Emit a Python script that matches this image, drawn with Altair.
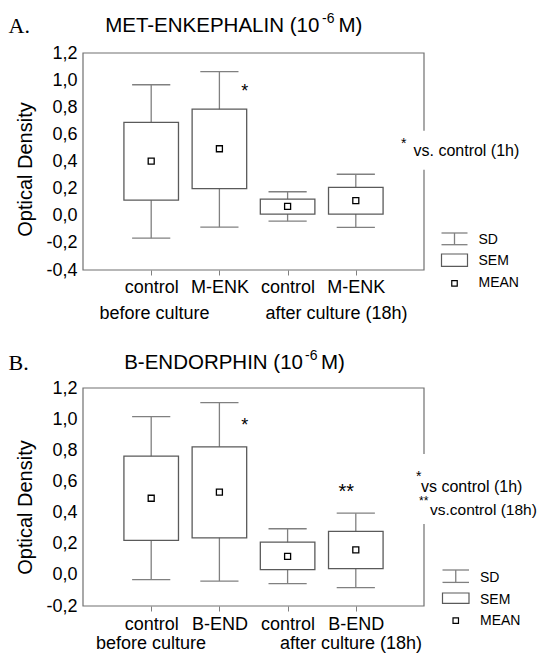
import altair as alt
import pandas as pd

# ---------------- data ----------------
positions = [1, 2, 3, 4]
group_labels = ["before culture", "after culture (18h)"]
legend_labels = ["SD", "SEM", "MEAN"]

labels_a = ["control", "M-ENK", "control", "M-ENK"]
mean_a = [0.403, 0.494, 0.069, 0.111]
sem_lo_a = [0.115, 0.200, 0.012, 0.012]
sem_hi_a = [0.688, 0.786, 0.123, 0.209]
sd_lo_a = [-0.165, -0.084, -0.040, -0.085]
sd_hi_a = [0.966, 1.062, 0.177, 0.306]
yticks_a = [-0.4, -0.2, 0.0, 0.2, 0.4, 0.6, 0.8, 1.0, 1.2]

labels_b = ["control", "B-END", "control", "B-END"]
mean_b = [0.492, 0.531, 0.119, 0.161]
sem_lo_b = [0.221, 0.238, 0.033, 0.040]
sem_hi_b = [0.762, 0.822, 0.210, 0.279]
sd_lo_b = [-0.031, -0.040, -0.056, -0.082]
sd_hi_b = [1.016, 1.106, 0.296, 0.396]
yticks_b = [-0.2, 0.0, 0.2, 0.4, 0.6, 0.8, 1.0, 1.2]

# ---------------- style ----------------
FONT = "Liberation Sans"
SERIF = "Liberation Serif"
W = 341
LINE = "#808080"
BOX = "#5a5a5a"
FRAME = "#707070"
ONE = alt.Data(values=[{}])


def txt(text, x, y, size, align="left", baseline="middle", font=FONT, color="black"):
    return alt.Chart(ONE).mark_text(
        text=text, font=font, fontSize=size, align=align, baseline=baseline, color=color
    ).encode(x=alt.value(x), y=alt.value(y))


def panel(labels, mean, sem_lo, sem_hi, sd_lo, sd_hi, yticks, ydom, H, title_y,
          letter, title_main, main_r, sup_x, title_m, m_x, title_y_pos,
          stars, notes, mask, legend_pos, group_x, group_y, lab_pad, anchor=False):
    df = pd.DataFrame({"pos": positions, "label": labels, "mean": mean,
                       "sem_lo": sem_lo, "sem_hi": sem_hi,
                       "sd_lo": sd_lo, "sd_hi": sd_hi})
    xs = alt.Scale(domain=[0, 5], nice=False, zero=False)
    ys = alt.Scale(domain=ydom, nice=False, zero=False)
    lab_expr = "[" + ",".join("'%s'" % l for l in labels) + "][datum.value - 1]"
    xax = alt.Axis(values=positions, labelExpr=lab_expr, title=None, grid=False,
                   domain=False, ticks=True, tickSize=5, tickColor=LINE,
                   labelFont=FONT, labelFontSize=18, labelColor="black",
                   labelPadding=lab_pad, labelAngle=0, labelOverlap=False)
    yax = alt.Axis(values=yticks,
                   labelExpr="(datum.value < -0.001 ? '-' : '') + replace(format(abs(datum.value), '.1f'), '.', ',')",
                   title="Optical Density", grid=False, domain=False, ticks=False,
                   labelFont=FONT, labelFontSize=18, labelColor="black", labelPadding=6,
                   labelOverlap=False, labelBound=False, labelFlush=False,
                   titleFont=FONT, titleFontSize=20, titleFontWeight="normal",
                   titleColor="black", titleAngle=270, titleX=-58, titleY=title_y,
                   titleAlign="center", titleBaseline="middle")
    base = alt.Chart(df)

    frame = alt.Chart(ONE).mark_rect(fill="white", fillOpacity=0, stroke=FRAME,
                                     strokeWidth=1.2).encode(
        x=alt.value(0), x2=alt.value(W), y=alt.value(0), y2=alt.value(H))

    stem = base.mark_rule(color=LINE, strokeWidth=1.3).encode(
        x=alt.X("pos:Q", scale=xs, axis=xax),
        y=alt.Y("sd_lo:Q", scale=ys, axis=yax), y2="sd_hi:Q")
    caps = base.transform_calculate(xl="datum.pos - 0.28", xr="datum.pos + 0.28")
    cap_hi = caps.mark_rule(color=LINE, strokeWidth=1.3).encode(
        x=alt.X("xl:Q", scale=xs, axis=xax), x2="xr:Q",
        y=alt.Y("sd_hi:Q", scale=ys, axis=yax))
    cap_lo = caps.mark_rule(color=LINE, strokeWidth=1.3).encode(
        x=alt.X("xl:Q", scale=xs, axis=xax), x2="xr:Q",
        y=alt.Y("sd_lo:Q", scale=ys, axis=yax))
    box = base.transform_calculate(bl="datum.pos - 0.4", br="datum.pos + 0.4").mark_rect(
        fill="white", stroke=BOX, strokeWidth=1.3).encode(
        x=alt.X("bl:Q", scale=xs, axis=xax), x2="br:Q",
        y=alt.Y("sem_lo:Q", scale=ys, axis=yax), y2="sem_hi:Q")
    mean_pt = base.mark_square(size=36, fill="white", stroke="black", strokeWidth=1.3,
                               opacity=1).encode(
        x=alt.X("pos:Q", scale=xs, axis=xax),
        y=alt.Y("mean:Q", scale=ys, axis=yax))

    layers = [frame, stem, cap_hi, cap_lo, box, mean_pt]

    # significance marks (placed through the data scales)
    for s, sx, sy, size in stars:
        layers.append(alt.Chart(ONE).mark_text(text=s, font=FONT, fontSize=size,
                                               baseline="alphabetic", align="center",
                                               color="black").encode(
            x=alt.X(datum=sx, scale=xs, axis=xax),
            y=alt.Y(datum=sy, scale=ys, axis=yax)))

    # white mask behind the right-hand note (interrupts the frame)
    mx1, mx2, my1, my2 = mask
    layers.append(alt.Chart(ONE).mark_rect(fill="white").encode(
        x=alt.value(mx1), x2=alt.value(mx2), y=alt.value(my1), y2=alt.value(my2)))
    for t, x, y, size, bl in notes:
        layers.append(txt(t, x, y, size, baseline=bl))

    # legend key
    lx1, lx2, sd_y1, sd_y2, sem_y1, sem_y2, mean_y, tx, ty = legend_pos
    lc = (lx1 + lx2) / 2
    layers.append(alt.Chart(ONE).mark_rule(color=LINE, strokeWidth=1.3).encode(
        x=alt.value(lx1), x2=alt.value(lx2), y=alt.value(sd_y1)))
    layers.append(alt.Chart(ONE).mark_rule(color=LINE, strokeWidth=1.3).encode(
        x=alt.value(lx1), x2=alt.value(lx2), y=alt.value(sd_y2)))
    layers.append(alt.Chart(ONE).mark_rule(color=LINE, strokeWidth=1.3).encode(
        x=alt.value(lc), y=alt.value(sd_y1), y2=alt.value(sd_y2)))
    layers.append(alt.Chart(ONE).mark_rect(fill="white", stroke=BOX, strokeWidth=1.2).encode(
        x=alt.value(lx1), x2=alt.value(lx2), y=alt.value(sem_y1), y2=alt.value(sem_y2)))
    layers.append(alt.Chart(ONE).mark_square(size=30, fill="white", stroke="black",
                                             strokeWidth=1.2, opacity=1).encode(
        x=alt.value(lc), y=alt.value(mean_y)))
    for lab, yy in zip(legend_labels, ty):
        layers.append(txt(lab, tx, yy, 14))

    # group labels under the categories
    layers.append(txt(group_labels[0], group_x[0], group_y, 18, align="center"))
    layers.append(txt(group_labels[1], group_x[1], group_y, 18, align="center"))

    # panel letter and title with superscript exponent
    layers.append(txt(letter, -74.5, title_y_pos, 22, font=SERIF))
    layers.append(txt(title_main, main_r, title_y_pos, 20.5, align="right"))
    layers.append(txt("-6", sup_x, title_y_pos - 7, 14))
    layers.append(txt(title_m, m_x, title_y_pos, 20.5))

    if anchor:
        # pins the top-left corner of the drawing to the page margin
        layers.append(txt(" ", -74.5, -44.3, 1, baseline="top", color="white"))

    return alt.layer(*layers).properties(width=W, height=H)


panel_a = panel(labels_a, mean_a, sem_lo_a, sem_hi_a, sd_lo_a, sd_hi_a, yticks_a,
                [-0.4, 1.2], 217, 116,
                "A.", "MET-ENKEPHALIN (10", 236.3, 239, "M)", 255.4, -27,
                [("*", 2.37, 0.878, 18)],
                [("*", 318, 94.7, 14, "alphabetic"),
                 ("vs. control (1h)", 330.5, 98.4, 16, "middle")],
                (316, 446, 77.7, 116.7),
                (358.5, 384.5, 180, 191.7, 201, 213.4, 230.4, 395.5,
                 [186.7, 208, 230.4]),
                (71.5, 253.5), 261, 3, anchor=True)

panel_b = panel(labels_b, mean_b, sem_lo_b, sem_hi_b, sd_lo_b, sd_hi_b, yticks_b,
                [-0.2, 1.2], 218, 119,
                "B.", "B-ENDORPHIN (10", 220, 222, " M)", 238, -25.3,
                [("*", 2.37, 0.922, 18), ("**", 3.86, 0.495, 20)],
                [("*", 333, 92.5, 14, "alphabetic"),
                 ("vs control (1h)", 338, 98.7, 16, "middle"),
                 ("**", 336, 117, 12, "alphabetic"),
                 ("vs.control (18h)", 347, 122, 15.5, "middle")],
                (326, 451, 66, 136),
                (359.5, 386, 182, 194.4, 205, 215.4, 232.7, 397,
                 [189.7, 211.7, 232.7]),
                (68, 268), 256, 4)

chart = alt.vconcat(panel_a, panel_b, spacing=118, bounds="flush").configure_view(
    stroke=None).configure_axis(labelOverlap=False).properties(
    padding={"left": 0, "top": 0, "right": 0, "bottom": 0})

chart.save("out.html", embed_options={"renderer": "svg", "actions": False})
